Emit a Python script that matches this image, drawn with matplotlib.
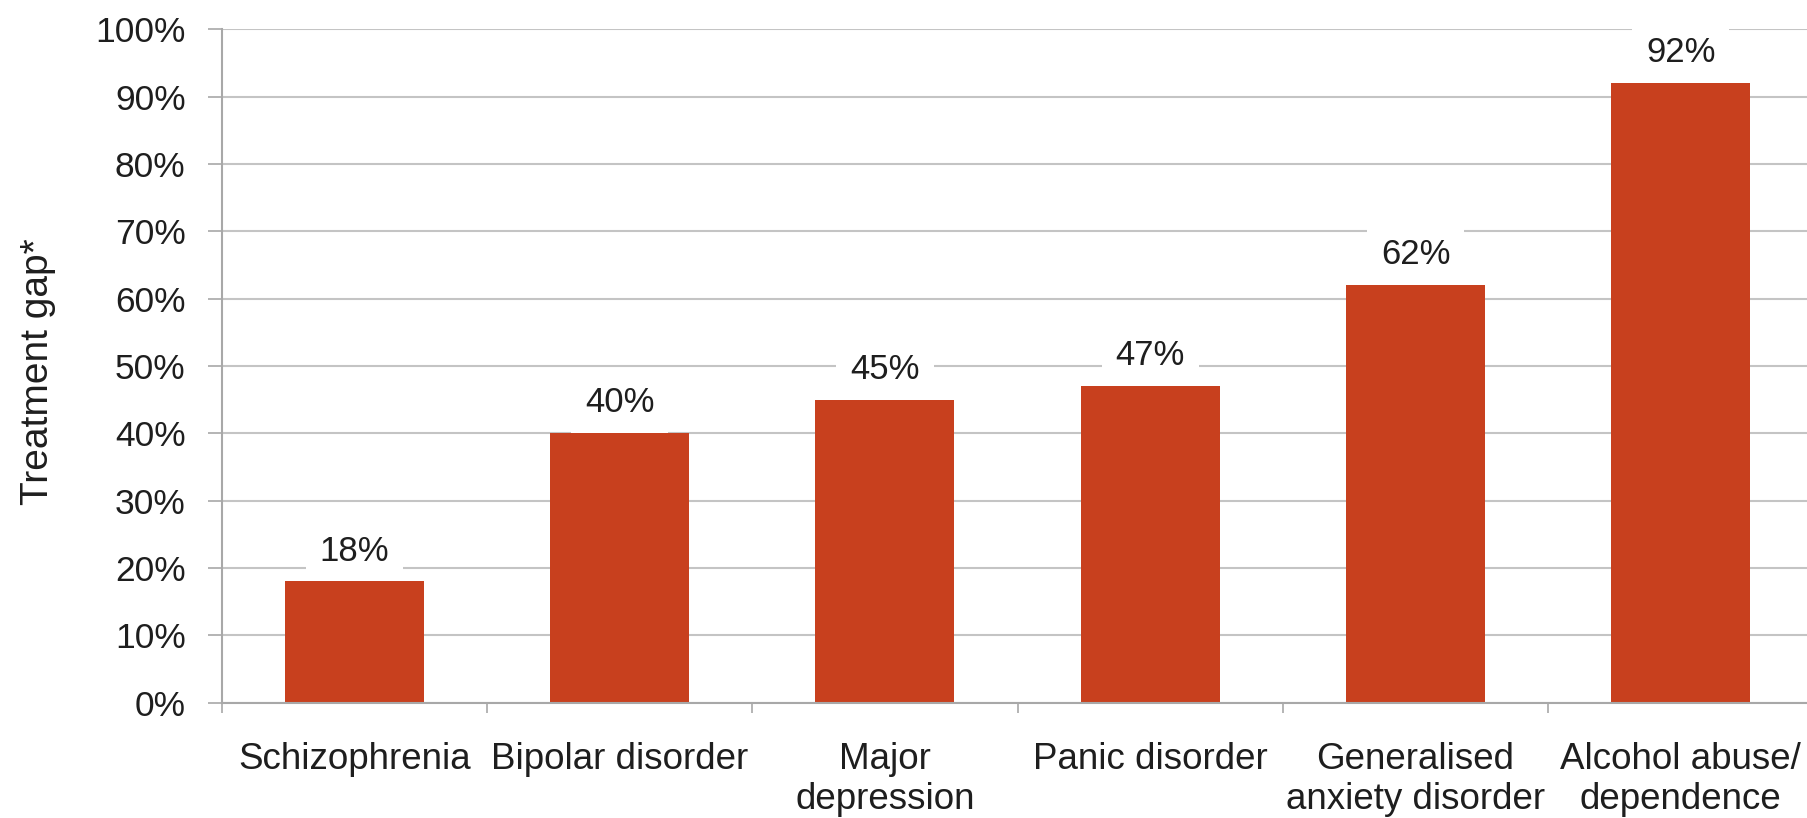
import matplotlib
matplotlib.use("Agg")
import matplotlib.pyplot as plt
import numpy as np

categories = ["Schizophrenia", "Bipolar disorder", "Major\ndepression",
              "Panic disorder", "Generalised\nanxiety disorder", "Alcohol abuse/\ndependence"]
values = [18, 40, 45, 47, 62, 92]
yticks = [0, 10, 20, 30, 40, 50, 60, 70, 80, 90, 100]
ylabel = "Treatment gap*"

plt.rcParams['font.family'] = ['Liberation Sans', 'DejaVu Sans']
text_color = "#1e1e1e"
bar_color = "#C8401E"
grid_color = "#C4C4C4"

W, H = 1807, 818
fig = plt.figure(figsize=(W / 100, H / 100), dpi=100)
left = 221.7 / W
bottom = (H - 702.7) / H
top = (H - 29.3) / H
width = (6 * 265.3) / W
ax = fig.add_axes([left, bottom, width, top - bottom])

x = np.arange(len(categories))
ax.bar(x, values, width=0.524, color=bar_color, zorder=3)

ax.set_xlim(-0.5, len(categories) - 0.5)
ax.set_ylim(0, 100)
ax.set_yticks(yticks)
ax.set_yticklabels([f"{v}%" for v in yticks], fontsize=25.5, color=text_color)
ax.yaxis.grid(True, color=grid_color, linewidth=1.5, zorder=0)
ax.set_axisbelow(True)

ax.set_xticks(x)
ax.set_xticklabels(categories, fontsize=26.5, color=text_color, linespacing=1.2)
ax.set_xticks(np.arange(len(categories) + 1) - 0.5, minor=True)
ax.tick_params(axis='x', which='major', length=0, pad=28)
ax.tick_params(axis='x', which='minor', length=7, width=1.2, color="#A8A8A8", direction='out')
ax.tick_params(axis='y', which='major', length=10, width=1.2, color="#A8A8A8", pad=16)

for s in ['top', 'right']:
    ax.spines[s].set_visible(False)
for s in ['left', 'bottom']:
    ax.spines[s].set_color("#A8A8A8")
    ax.spines[s].set_linewidth(1.5)
ax.spines['bottom'].set_zorder(4)

for xi, v in zip(x, values):
    ax.annotate(f"{v}%", xy=(xi, v), xytext=(0, 10), textcoords='offset points',
                ha='center', va='bottom', fontsize=25, color=text_color, zorder=5,
                bbox=dict(boxstyle='square,pad=0.4', facecolor='white', edgecolor='none'))

fig.text(38 / W, 1 - 372 / H, ylabel, rotation=90, ha='center', va='center',
         fontsize=28, color=text_color)

fig.savefig("out.png", dpi=100, facecolor='white')
